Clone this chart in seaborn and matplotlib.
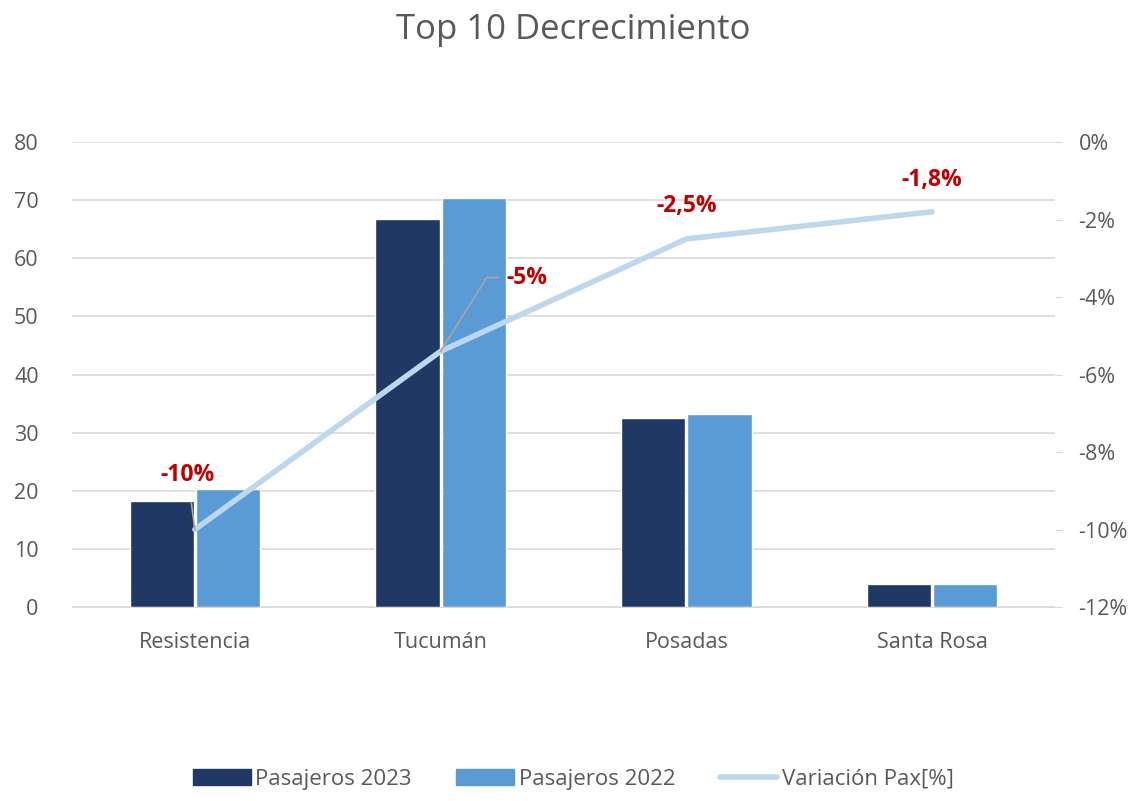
import pandas as pd
import seaborn as sns
import matplotlib.pyplot as plt
from matplotlib.patches import Patch
from matplotlib.lines import Line2D

ciudades = ['Resistencia', 'Tucumán', 'Posadas', 'Santa Rosa']
pax_2023 = [18.2, 66.8, 32.5, 4.0]
pax_2022 = [20.3, 70.4, 33.2, 4.0]
variacion = [-10.0, -5.4, -2.5, -1.8]
etiquetas = ['-10%', '-5%', '-2,5%', '-1,8%']

c2023 = '#203864'
c2022 = '#5B9BD5'
cvar = '#BDD7EE'
gris = '#595959'

df = pd.DataFrame({
    'ciudad': ciudades * 2,
    'pax': pax_2023 + pax_2022,
    'serie': ['Pasajeros 2023'] * 4 + ['Pasajeros 2022'] * 4,
})

sns.set_style('white')
plt.rcParams['font.family'] = ['Open Sans', 'DejaVu Sans']

fig = plt.figure(figsize=(11.47, 8.01), dpi=100)
ax = fig.add_axes([0.0628, 0.2422, 0.857, 0.5805])
sns.barplot(data=df, x='ciudad', y='pax', hue='serie', palette=[c2023, c2022],
            width=0.54, gap=0.03, ax=ax, legend=False, saturation=1)
ax.set_ylim(0, 80)
ax.set_xlim(-0.5, 3.5)
ax.set_yticks(range(0, 81, 10))
ax.yaxis.grid(True, color='#D9D9D9', linewidth=1.2)
ax.set_axisbelow(True)
for s in ['top', 'left', 'right']:
    ax.spines[s].set_visible(False)
ax.spines['bottom'].set_color('#D9D9D9')
ax.tick_params(axis='y', length=0, labelsize=15.5, labelcolor=gris, pad=24)
ax.tick_params(axis='x', length=0, labelsize=15.5, labelcolor=gris, pad=18)
ax.set_xlabel('')
ax.set_ylabel('')

ax2 = ax.twinx()
ax2.plot(range(4), variacion, color=cvar, linewidth=4, solid_capstyle='round')
ax2.set_ylim(-12, 0)
ax2.set_yticks(range(-12, 1, 2))
ax2.set_yticklabels([f'{v}%' for v in range(-12, 1, 2)])
for s in ['top', 'left', 'right', 'bottom']:
    ax2.spines[s].set_visible(False)
ax2.tick_params(axis='y', length=5, color='#D9D9D9', labelsize=15.5, labelcolor=gris, pad=12)

# etiquetas de datos
lab = dict(color='#C00000', fontsize=16.5, fontweight='bold', ha='center', va='center')
ax2.annotate(etiquetas[0], xy=(0, variacion[0]), xytext=(-0.03, -8.6),
             arrowprops=dict(arrowstyle='-', color='#A6A6A6', lw=1.2, shrinkA=9, shrinkB=0), **lab)
ax2.annotate(etiquetas[1], xy=(1, variacion[1]), xytext=(1.35, -3.5),
             arrowprops=dict(arrowstyle='-', color='#A6A6A6', lw=1.2, shrinkA=3, shrinkB=0,
                             relpos=(0, 0.5),
                             connectionstyle='angle,angleA=0,angleB=58,rad=0'), **lab)
ax2.text(2, -1.66, etiquetas[2], **lab)
ax2.text(3, -0.98, etiquetas[3], **lab)

fig.suptitle('Top 10 Decrecimiento', y=0.984, fontsize=25, color=gris)

handles = [Patch(color=c2023, label='Pasajeros 2023'),
           Patch(color=c2022, label='Pasajeros 2022'),
           Line2D([0], [0], color=cvar, linewidth=4, label='Variación Pax[%]')]
fig.legend(handles=handles, loc='center', bbox_to_anchor=(0.5, 0.027), ncol=3,
           frameon=False, fontsize=16, labelcolor=gris, handlelength=2.6,
           handleheight=0.75, handletextpad=0.2, columnspacing=2.0)

fig.savefig('out.png', dpi=100)
